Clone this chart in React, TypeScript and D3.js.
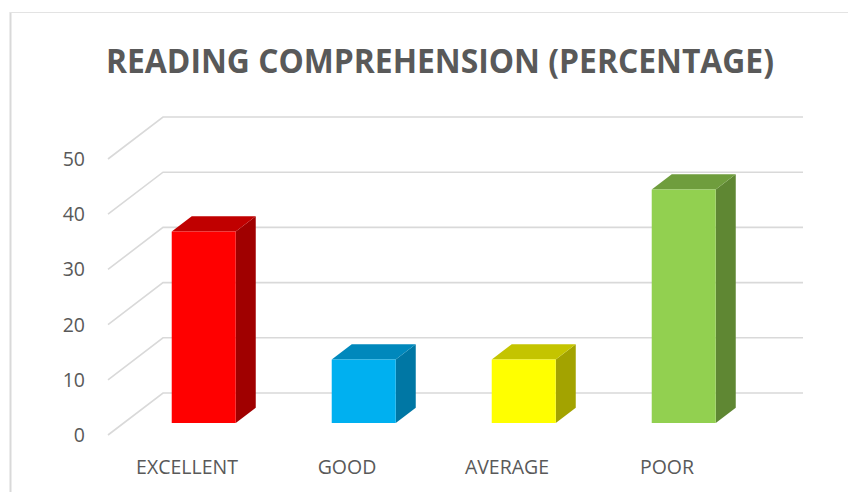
import React from "react";
import * as d3 from "d3";

const categories = ["EXCELLENT", "GOOD", "AVERAGE", "POOR"];
const values = [34.7, 11.5, 11.5, 42.3];
const yTicks = [0, 10, 20, 30, 40, 50];
const title = "READING COMPREHENSION (PERCENTAGE)";
const frontColors = ["#FF0000", "#00B0F0", "#FFFF00", "#92D050"];
const topColors = ["#C00000", "#0088BC", "#C4C400", "#6F9D3D"];
const sideColors = ["#A00000", "#0077A4", "#A3A300", "#5F8733"];

const W = 848;
const H = 492;
const DX = 55; // full depth x offset
const DY = 42; // full depth y offset
const Z0 = 0.286; // bar front plane
const Z1 = 0.65; // bar back plane

export default function App() {
  const x = d3
    .scaleBand<string>()
    .domain(categories)
    .range([108, 748])
    .paddingInner(0.6)
    .paddingOuter(0.3);
  const y = d3.scaleLinear().domain([0, 50]).range([435, 159]);

  const P = (px: number, v: number, z: number): [number, number] => [
    px + z * DX,
    y(v) - z * DY,
  ];
  const poly = (pts: [number, number][]) =>
    pts.map((p) => p[0].toFixed(2) + "," + p[1].toFixed(2)).join(" ");

  const font = "'Open Sans', 'DejaVu Sans', sans-serif";
  const textColor = "#595959";
  const grid = "#D9D9D9";

  return (
    <svg
      width={W}
      height={H}
      style={{ position: "absolute", left: 0, top: 0, background: "#fff" }}
    >
      <rect x={0} y={0} width={W} height={H} fill="#fff" />
      {/* chart border */}
      <line x1={10.5} y1={12} x2={10.5} y2={H} stroke="#D9D9D9" strokeWidth={2} />
      <line x1={10} y1={12.5} x2={W} y2={12.5} stroke="#E3E3E3" strokeWidth={1} />

      <text
        x={440}
        y={73}
        textAnchor="middle"
        fontFamily={font}
        fontWeight="bold"
        fontSize={34}
        fill={textColor}
        textLength={668}
        lengthAdjust="spacingAndGlyphs"
      >
        {title}
      </text>

      {/* gridlines: diagonal side wall + back wall */}
      {yTicks.map((t) => {
        const a = P(108, t, 0);
        const b = P(108, t, 1);
        const c = P(748, t, 1);
        return (
          <polyline
            key={"g" + t}
            points={poly([a, b, c])}
            fill="none"
            stroke={grid}
            strokeWidth={1.6}
          />
        );
      })}

      {/* y tick labels */}
      {yTicks.map((t) => (
        <text
          key={"t" + t}
          x={85}
          y={y(t) + 7}
          textAnchor="end"
          fontFamily={font}
          fontSize={19.5}
          fill={textColor}
        >
          {t}
        </text>
      ))}

      {/* bars */}
      {categories.map((c, i) => {
        const x0 = x(c) as number;
        const x1 = x0 + x.bandwidth();
        const v = values[i];
        const fBL = P(x0, 0, Z0);
        const fTL = P(x0, v, Z0);
        const fTR = P(x1, v, Z0);
        const fBR = P(x1, 0, Z0);
        const bTL = P(x0, v, Z1);
        const bTR = P(x1, v, Z1);
        const bBR = P(x1, 0, Z1);
        return (
          <g key={c}>
            <polygon points={poly([fTR, bTR, bBR, fBR])} fill={sideColors[i]} />
            <polygon points={poly([fTL, bTL, bTR, fTR])} fill={topColors[i]} />
            <polygon points={poly([fBL, fTL, fTR, fBR])} fill={frontColors[i]} />
          </g>
        );
      })}

      {/* category labels */}
      {categories.map((c) => (
        <text
          key={"c" + c}
          x={(x(c) as number) + x.bandwidth() / 2 - 1}
          y={474}
          textAnchor="middle"
          fontFamily={font}
          fontSize={19.5}
          fill={textColor}
        >
          {c}
        </text>
      ))}
    </svg>
  );
}
